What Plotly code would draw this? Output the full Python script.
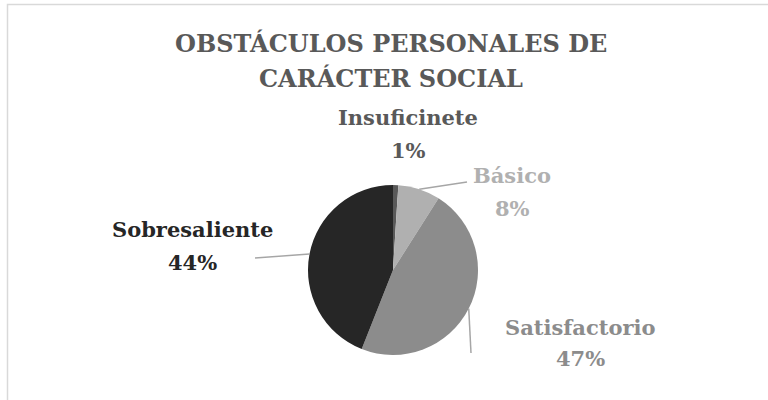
import math
import plotly.graph_objects as go

categories = ["Insuficinete", "Básico", "Satisfactorio", "Sobresaliente"]
values = [1, 8, 47, 44]
colors = ["#595959", "#b0b0b0", "#8c8c8c", "#262626"]
title_lines = ["OBSTÁCULOS PERSONALES DE", "CARÁCTER SOCIAL"]

W, H = 768, 400
# pie geometry (pixels)
cx, cy, R = 393, 270, 85
# label centre positions (pixels): (x, name y, percent y)
label_pos = [(408, 118, 150), (512, 176, 208), (580, 327, 358), (192, 230, 262)]
leader_end = [None, (467, 182), (471, 353), (255, 258)]
title_pos = [(391, 43), (391, 78)]
FONT = "DejaVu Serif"

def px2paper(x, y):
    return x / W, 1 - y / H

fig = go.Figure()
fig.add_trace(go.Pie(
    labels=categories, values=values, sort=False, direction="clockwise",
    rotation=0, marker=dict(colors=colors, line=dict(width=0)),
    textinfo="none", hoverinfo="label+percent", showlegend=False,
    domain=dict(x=[(cx - R) / W, (cx + R) / W], y=[1 - (cy + R) / H, 1 - (cy - R) / H]),
))

total = sum(values)
annotations = []
shapes = []

for (tx, ty), line in zip(title_pos, title_lines):
    x, y = px2paper(tx, ty)
    annotations.append(dict(x=x, y=y, xref="paper", yref="paper", showarrow=False,
                            xanchor="center", yanchor="middle", text=f"<b>{line}</b>",
                            font=dict(family=FONT, size=24, color="#595959")))

cum = 0
for i, (cat, v) in enumerate(zip(categories, values)):
    mid = (cum + v / 2) / total * 2 * math.pi
    cum += v
    pct = round(v / total * 100)
    lx, ly1, ly2 = label_pos[i]
    for txt, ly in ((cat, ly1), (f"{pct}%", ly2)):
        x, y = px2paper(lx, ly)
        annotations.append(dict(
            x=x, y=y, xref="paper", yref="paper", showarrow=False,
            xanchor="center", yanchor="middle",
            text=f"<b>{txt}</b>",
            font=dict(family=FONT, size=21, color=colors[i]),
        ))
    if leader_end[i] is not None:
        ex = cx + R * math.sin(mid)
        ey = cy - R * math.cos(mid)
        x0, y0 = px2paper(ex, ey)
        x1, y1 = px2paper(*leader_end[i])
        shapes.append(dict(type="line", xref="paper", yref="paper",
                           x0=x0, y0=y0, x1=x1, y1=y1,
                           line=dict(color="#a6a6a6", width=1.5)))

shapes.append(dict(type="rect", xref="paper", yref="paper",
                   x0=7.5 / W, x1=1.02, y0=-0.02, y1=1 - 4.5 / H,
                   line=dict(color="#d9d9d9", width=1.5)))

fig.update_layout(
    width=W, height=H, margin=dict(l=0, r=0, t=0, b=0),
    paper_bgcolor="white", plot_bgcolor="white",
    annotations=annotations, shapes=shapes,
)
fig.write_html("out.html")
